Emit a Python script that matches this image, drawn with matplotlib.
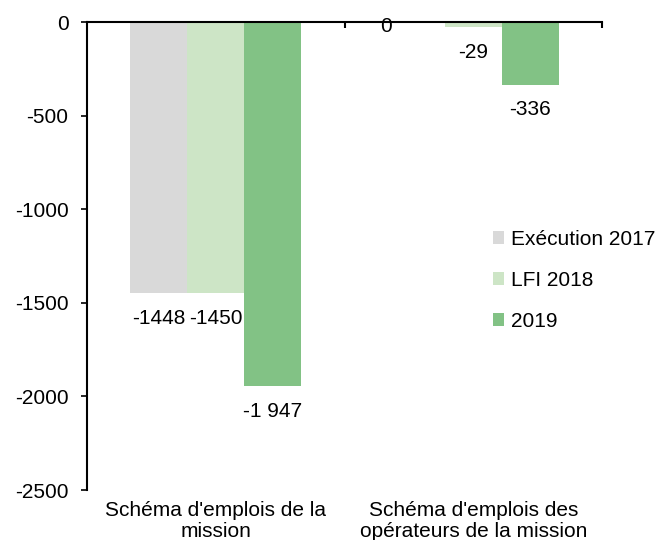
import matplotlib.pyplot as plt
from matplotlib.ticker import FixedLocator

plt.rcParams['font.family'] = ['Liberation Sans', 'DejaVu Sans']
plt.rcParams['axes.unicode_minus'] = False

categories = ["Schéma d'emplois de la\nmission", "Schéma d'emplois des\nopérateurs de la mission"]
series_names = ["Exécution 2017", "LFI 2018", "2019"]
exec_2017 = [-1448, 0]
lfi_2018 = [-1450, -29]
plf_2019 = [-1947, -336]
colors = ["#d9d9d9", "#cde5c6", "#82c285"]


def fmt_plain(v):
    return f"{v:d}"


def fmt_space(v):
    # séparateur de milliers en espace
    return f"{v:,d}".replace(",", " ")


fig = plt.figure(figsize=(6.59, 5.40), dpi=100)
ax = fig.add_axes([87 / 659, 1 - 490 / 540, (602 - 87) / 659, (490 - 22) / 540])

width = 0.222
offsets = [-width, 0, width]
all_series = [exec_2017, lfi_2018, plf_2019]
formatters = [fmt_plain, fmt_plain, fmt_space]
xs = list(range(len(categories)))

for vals, off, col, name, fmt in zip(all_series, offsets, colors, series_names, formatters):
    pos = [x + off for x in xs]
    ax.bar(pos, vals, width=width, color=col, label=name, zorder=2)
    for p, v in zip(pos, vals):
        if v == 0:
            # étiquette du zéro décalée à gauche, sur l'axe
            dx, dy = -21.5, -3
        else:
            dx, dy = 0, -18
        ax.annotate(fmt(v), (p, v), xytext=(dx, dy), textcoords="offset points",
                    ha="center", va="center", fontsize=15, zorder=3)

ax.set_xlim(-0.5, 1.5)
ax.set_ylim(-2500, 0)
ax.set_yticks([0, -500, -1000, -1500, -2000, -2500])
ax.tick_params(axis="y", direction="out", length=4.3, width=1.2, pad=9, labelsize=15)

ax.spines["bottom"].set_visible(False)
ax.spines["right"].set_visible(False)
ax.spines["top"].set_linewidth(1.5)
ax.spines["left"].set_linewidth(1.5)

ax.set_xticks(xs)
ax.set_xticklabels(categories, fontsize=15, linespacing=1.15)
ax.tick_params(axis="x", which="major", length=0, pad=8)
ax.xaxis.set_minor_locator(FixedLocator([0.5, 1.5]))
ax.tick_params(axis="x", which="minor", top=True, bottom=False, direction="in",
               length=4.3, width=1.5)

ax.legend(loc="upper left", bbox_to_anchor=(493 / 659, 1 - 230 / 540),
          bbox_transform=fig.transFigure, frameon=False, fontsize=15,
          handlelength=0.55, handleheight=0.55, handletextpad=0.3,
          labelspacing=1.05, borderpad=0, borderaxespad=0)

fig.savefig("out.png", dpi=100)
